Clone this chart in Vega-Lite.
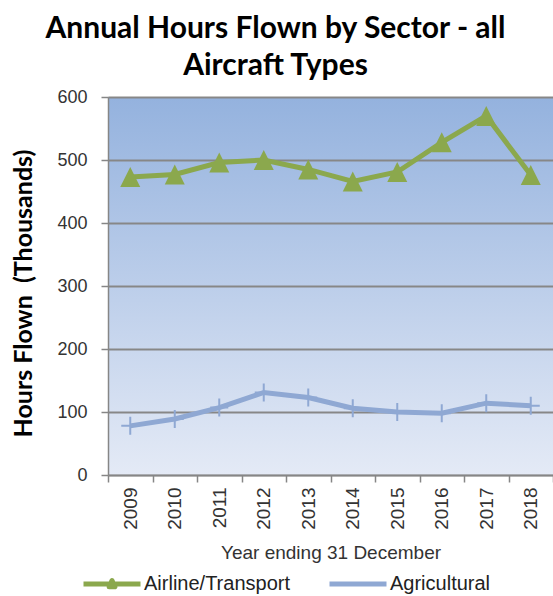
{
  "$schema": "https://vega.github.io/schema/vega-lite/v6.json",
  "width": 445,
  "height": 378,
  "autosize": {"type": "none"},
  "padding": {"left": 108, "top": 97, "right": 0, "bottom": 121},
  "background": "white",
  "config": {
    "view": {
      "stroke": null,
      "fill": {"gradient": "linear", "x1": 0, "y1": 0, "x2": 0, "y2": 1,
        "stops": [{"offset": 0, "color": "#94B2DE"}, {"offset": 1, "color": "#E4EAF6"}]}
    }
  },
  "title": {
    "text": ["Annual Hours Flown by Sector - all", "Aircraft Types"],
    "font": "Lato", "fontSize": 30, "fontWeight": "bold", "lineHeight": 37,
    "color": "black", "anchor": "middle", "dx": -55, "offset": 7
  },
  "data": {
    "values": [
      {"year": "2009", "series": "Airline/Transport", "hours": 473},
      {"year": "2010", "series": "Airline/Transport", "hours": 477},
      {"year": "2011", "series": "Airline/Transport", "hours": 496},
      {"year": "2012", "series": "Airline/Transport", "hours": 500},
      {"year": "2013", "series": "Airline/Transport", "hours": 485},
      {"year": "2014", "series": "Airline/Transport", "hours": 466},
      {"year": "2015", "series": "Airline/Transport", "hours": 481},
      {"year": "2016", "series": "Airline/Transport", "hours": 528},
      {"year": "2017", "series": "Airline/Transport", "hours": 570},
      {"year": "2018", "series": "Airline/Transport", "hours": 476},
      {"year": "2009", "series": "Agricultural", "hours": 78},
      {"year": "2010", "series": "Agricultural", "hours": 89},
      {"year": "2011", "series": "Agricultural", "hours": 107},
      {"year": "2012", "series": "Agricultural", "hours": 131},
      {"year": "2013", "series": "Agricultural", "hours": 123},
      {"year": "2014", "series": "Agricultural", "hours": 106},
      {"year": "2015", "series": "Agricultural", "hours": 100},
      {"year": "2016", "series": "Agricultural", "hours": 98},
      {"year": "2017", "series": "Agricultural", "hours": 114},
      {"year": "2018", "series": "Agricultural", "hours": 110}
    ]
  },
  "encoding": {
    "x": {
      "field": "year", "type": "ordinal",
      "scale": {"type": "band", "paddingInner": 0, "paddingOuter": 0},
      "axis": {
        "title": "Year ending 31 December",
        "labelAngle": -90, "labelAlign": "right", "labelBaseline": "middle",
        "tickBand": "extent", "tickSize": 7, "tickColor": "#868686", "tickWidth": 1.5,
        "domainColor": "#868686", "domainWidth": 1.5,
        "labelFont": "Liberation Sans", "labelFontSize": 19, "labelColor": "#333", "labelPadding": 5,
        "titleFont": "Liberation Sans", "titleFontSize": 19, "titleFontWeight": "normal", "titleColor": "#333", "titlePadding": 14,
        "grid": false
      }
    },
    "y": {
      "field": "hours", "type": "quantitative",
      "scale": {"domain": [0, 600], "nice": false},
      "axis": {
        "title": "Hours Flown\u00a0 (Thousands)",
        "values": [0, 100, 200, 300, 400, 500, 600],
        "grid": true, "gridColor": "#878787", "gridWidth": 2,
        "tickSize": 7, "tickColor": "#868686", "tickWidth": 1.5,
        "domainColor": "#868686", "domainWidth": 1.5,
        "labelFont": "Liberation Sans", "labelFontSize": 18, "labelColor": "#333", "labelPadding": 14,
        "titleFont": "Lato", "titleFontSize": 25, "titleFontWeight": "bold", "titleColor": "black",
        "titleX": -85, "titleY": 196, "titleBaseline": "middle"
      }
    }
  },
  "layer": [
    {
      "mark": {"type": "line", "strokeWidth": 5},
      "encoding": {
        "color": {
          "field": "series", "type": "nominal",
          "scale": {"domain": ["Airline/Transport", "Agricultural"], "range": ["#8BA84D", "#8FA8D3"]},
          "legend": {
            "orient": "none", "legendX": -27, "legendY": 456, "direction": "horizontal",
            "title": null, "symbolSize": 3249, "symbolStrokeWidth": 5,
            "labelFont": "Liberation Sans", "labelFontSize": 20, "labelColor": "#222",
            "labelOffset": 1, "columnPadding": 37,
            "encode": {
              "symbols": {
                "update": {
                  "shape": {"signal": "datum.value === 'Airline/Transport' ? 'M-1,0H1M-0.1,0.1L0,-0.12L0.1,0.1Z' : 'M-1,0H1'"},
                  "fill": {"scale": "color", "field": "value"},
                  "strokeJoin": {"value": "round"}
                }
              }
            }
          }
        }
      }
    },
    {
      "transform": [{"filter": "datum.series === 'Airline/Transport'"}],
      "mark": {"type": "point", "shape": "M0,-1L1,1L-1,1Z", "filled": true, "size": 400, "color": "#8BA84D", "opacity": 1}
    },
    {
      "transform": [{"filter": "datum.series === 'Agricultural'"}],
      "mark": {"type": "point", "shape": "M0,-1V1M-1,0H1", "filled": false, "size": 324, "strokeWidth": 2, "color": "#8FA8D3", "opacity": 1}
    }
  ]
}
